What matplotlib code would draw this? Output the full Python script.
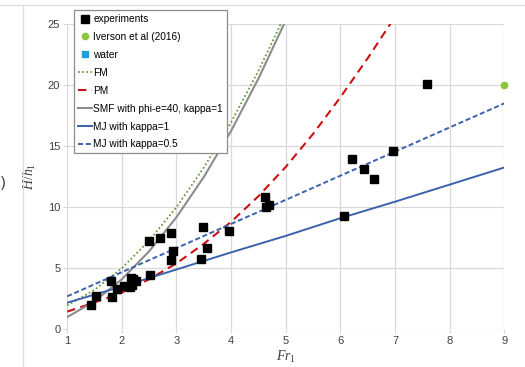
import matplotlib
matplotlib.use('Agg')
import matplotlib.pyplot as plt
from matplotlib.lines import Line2D

plt.rcParams['font.family'] = ['Liberation Sans', 'DejaVu Sans']
plt.rcParams['mathtext.fontset'] = 'custom'
plt.rcParams['mathtext.it'] = 'Liberation Serif:italic'
plt.rcParams['mathtext.rm'] = 'Liberation Serif'

# experiments
fr_exp = [1.44, 1.52, 1.81, 1.82, 1.91, 2.04, 2.16, 2.21, 2.26, 2.18, 2.15,
          2.51, 2.50, 2.70, 2.90, 2.93, 2.90, 3.48, 3.55, 3.45, 3.96,
          4.62, 4.63, 4.70, 6.06, 6.22, 6.44, 6.62, 6.97, 7.59]
h_exp = [2.00, 2.72, 3.93, 2.67, 3.30, 3.52, 4.23, 4.12, 3.98, 3.60, 3.44,
         4.42, 7.23, 7.45, 7.91, 6.39, 5.68, 8.38, 6.66, 5.76, 8.05,
         10.86, 10.04, 10.18, 9.30, 13.97, 13.10, 12.28, 14.63, 20.06]

# Iverson et al (2016)
fr_iv = [9.0]
h_iv = [20.0]

# model curves
fr_fm = [1, 1.5, 2, 2.5, 3, 3.5, 4, 4.5, 5]
h_fm = [1.95, 3.23, 5.0, 7.26, 10.0, 13.24, 16.96, 21.17, 25.87]

fr_pm = [1, 1.5, 2, 2.5, 3, 3.5, 4, 4.5, 5, 5.5, 6, 6.5, 7]
h_pm = [1.45, 2.2, 3.0, 4.1, 5.4, 7.0, 8.8, 10.9, 13.3, 16.0, 19.0, 22.2, 25.6]

fr_smf = [1, 1.5, 2, 2.5, 3, 3.5, 4, 4.5, 5]
h_smf = [1.0, 2.30, 4.10, 6.39, 9.18, 12.47, 16.25, 20.53, 25.30]

fr_mj = [1, 2, 3, 4, 5, 6, 7, 8, 9]
h_mj1 = [2.18, 3.5, 4.9, 6.3, 7.65, 9.1, 10.45, 11.85, 13.25]
h_mj05 = [2.7, 4.68, 6.65, 8.63, 10.6, 12.58, 14.55, 16.53, 18.5]

fig = plt.figure(figsize=(5.25, 3.67), dpi=100)
ax = fig.add_axes([0.128, 0.1027, 0.8326, 0.8319])

ax.plot(fr_exp, h_exp, ls='none', marker='s', ms=5.2, color='black',
        label='experiments', zorder=5)
ax.plot(fr_iv, h_iv, ls='none', marker='o', ms=4.5, color='#8cc63f',
        label='Iverson et al (2016)', zorder=5, clip_on=False)
ax.plot([], [], ls='none', marker='s', ms=5, color='#1ea0dc', label='water')
ax.plot(fr_fm, h_fm, ls=(0, (1, 1.3)), lw=1.3, color='#6a9a3c', label='FM')
ax.plot(fr_pm, h_pm, ls=(0, (4, 2.6)), lw=1.5, color='#cc1111', label='PM')
ax.plot(fr_smf, h_smf, ls='-', lw=1.5, color='#8c8c8c',
        label='SMF with phi-e=40, kappa=1')
ax.plot(fr_mj, h_mj1, ls='-', lw=1.4, color='#3a62ad', label='MJ with kappa=1')
ax.plot(fr_mj, h_mj05, ls=(0, (2.6, 1.4)), lw=1.4, color='#3a62ad',
        label='MJ with kappa=0.5')

ax.set_xlim(1, 9)
ax.set_ylim(0, 25)
ax.set_xticks(range(1, 10))
ax.set_yticks(range(0, 26, 5))
ax.grid(True, color='#d9d9d9', lw=0.9)
ax.set_axisbelow(True)
for s in ax.spines.values():
    s.set_visible(False)
ax.tick_params(length=3, color='#d9d9d9', labelsize=8, labelcolor='#404040', pad=2)

ax.set_xlabel(r'$Fr_\mathit{1}$', fontsize=10, color='#404040', labelpad=2)
ax.set_ylabel(r'$H/h_\mathit{1}$', fontsize=10, color='#404040', labelpad=7)

leg = ax.legend(loc='upper left', bbox_to_anchor=(74 / 525, 1 - 10 / 367),
                bbox_transform=fig.transFigure, fontsize=7.3, numpoints=1,
                handlelength=1.4, handletextpad=0.12, labelspacing=0.78,
                borderpad=0.4, borderaxespad=0, fancybox=False,
                framealpha=1, edgecolor='#8c8c8c')
leg.get_frame().set_linewidth(0.9)

# frame lines and edge text of the screenshot
fig.add_artist(Line2D([0, 1], [1 - 5 / 367] * 2, color='#dddddd', lw=0.9))
fig.add_artist(Line2D([22.5 / 525] * 2, [0, 1 - 5 / 367], color='#dddddd', lw=0.9))
fig.text(0.002, 1 - 183 / 367, ')', fontsize=10, color='#333333', va='center')

fig.savefig('out.png', dpi=100)
